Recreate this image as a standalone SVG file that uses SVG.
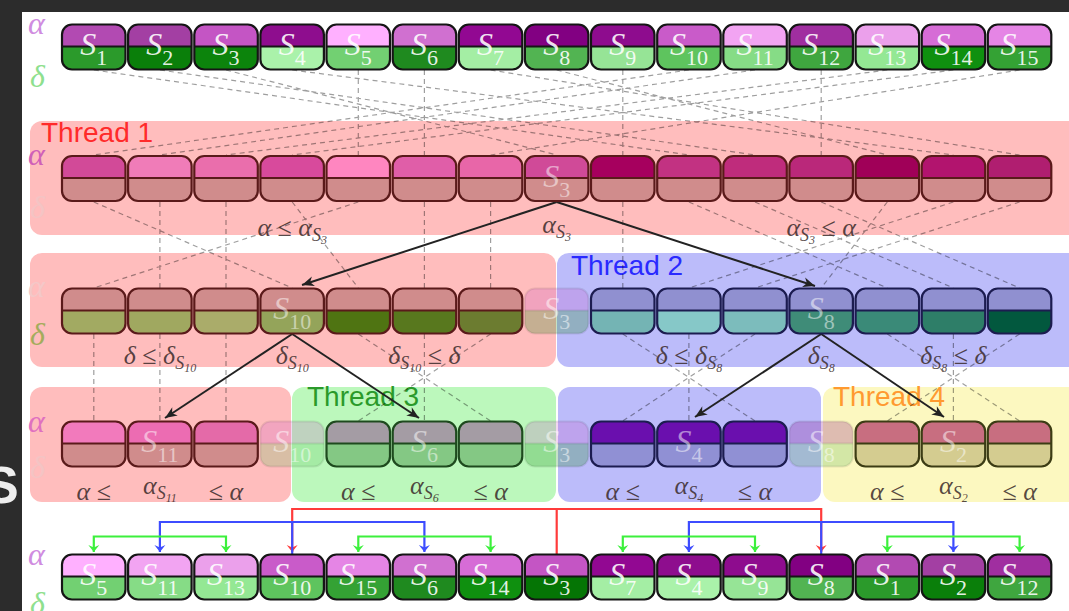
<svg xmlns="http://www.w3.org/2000/svg" width="1069" height="611" viewBox="0 0 1069 611">
<style>
.k0{stroke:#151515;stroke-width:2.2}
.km{stroke:#5a1a1a;stroke-width:2.2}
.kb{stroke:#1c1c50;stroke-width:2.2}
.kg{stroke:#1e4a1e;stroke-width:2.2}
.ky{stroke:#3c3c14;stroke-width:2.2}
.kf{stroke:#000;stroke-opacity:.08;stroke-width:2}
.fd{opacity:.24}
.lb{font-family:"Liberation Serif",serif;text-anchor:middle;fill:#fff;fill-opacity:.9}
.lp{fill-opacity:.5}
.S{font-style:italic;font-size:32px}
.sb{font-size:22px}
.th{font-family:"Liberation Sans",sans-serif;font-size:28px}
.gk{font-family:"Liberation Serif",serif;font-style:italic;font-size:32px}
.cd{font-family:"Liberation Serif",serif;font-style:italic;font-size:26px;fill:#3a2a2a;fill-opacity:.85;text-anchor:middle}
.c1{font-size:18px}
.c2{font-size:12px}
.dl{stroke:#000;stroke-opacity:.38;stroke-width:1.2;stroke-dasharray:5 4;fill:none}
.ba{stroke:#222;stroke-width:2;fill:none;marker-end:url(#ah)}
.ca{stroke-width:2.2;fill:none}
.cr{stroke:#ff3b3b}
.cbl{stroke:#3d4cff}
.cg{stroke:#3cf03c}
</style>
<defs>
<path id="ct" d="M0,22V10A10,10 0 0 1 10,0H53.5A10,10 0 0 1 63.5,10V22Z"/>
<path id="cb" d="M0,22V35A10,10 0 0 0 10,45H53.5A10,10 0 0 0 63.5,35V22Z"/>
<g id="cf" fill="none"><rect width="63.5" height="45" rx="10"/><path d="M0,22H63.5"/></g>
<marker id="ah" viewBox="-13 -6 14 12" refX="0" refY="0" markerWidth="14" markerHeight="12" markerUnits="userSpaceOnUse" orient="auto"><path d="M0,0L-12,-5L-8.5,0L-12,5Z" fill="#222"/></marker>
<marker id="mr" viewBox="-9 -6 10 12" refX="0" refY="0" markerWidth="10" markerHeight="12" markerUnits="userSpaceOnUse" orient="auto-start-reverse"><path d="M0,0L-7,-5.5L-4.5,0L-7,5.5Z" fill="#ff3b3b"/></marker>
<marker id="mb" viewBox="-9 -6 10 12" refX="0" refY="0" markerWidth="10" markerHeight="12" markerUnits="userSpaceOnUse" orient="auto-start-reverse"><path d="M0,0L-7,-5.5L-4.5,0L-7,5.5Z" fill="#3d4cff"/></marker>
<marker id="mg" viewBox="-9 -6 10 12" refX="0" refY="0" markerWidth="10" markerHeight="12" markerUnits="userSpaceOnUse" orient="auto-start-reverse"><path d="M0,0L-7,-5.5L-4.5,0L-7,5.5Z" fill="#3cf03c"/></marker>
</defs>

<rect width="1069" height="611" fill="#2c2c2c"/>
<text x="-16" y="503" font-family="Liberation Sans, sans-serif" font-weight="bold" font-size="52" fill="#eeeeee">S</text>
<rect x="22" y="12" width="1047" height="599" fill="#ffffff"/>

<g id="boxes">
<g id="thread1"><rect x="30" y="121" width="1060" height="114" rx="12" fill="#ffbdbd"/><text class="th" x="41" y="142" fill="#ff2a2a">Thread 1</text></g>
<rect id="thread1-b" x="30" y="253" width="526" height="114" rx="12" fill="#ffbdbd"/>
<g id="thread2"><rect x="557" y="253" width="530" height="114" rx="12" fill="#bcbcfa"/><text class="th" x="571" y="275" fill="#2a2aff">Thread 2</text></g>
<rect id="thread1-c" x="30" y="387" width="261" height="115" rx="12" fill="#ffbdbd"/>
<g id="thread3"><rect x="292" y="387" width="264" height="115" rx="12" fill="#bcf8bc"/><text class="th" x="307" y="406" fill="#2a9a2a">Thread 3</text></g>
<rect id="thread2-b" x="558" y="387" width="263" height="115" rx="12" fill="#bcbcfa"/>
<g id="thread4"><rect x="823" y="387" width="260" height="115" rx="12" fill="#fcf8c0"/><text class="th" x="833" y="406" fill="#ff9a30">Thread 4</text></g>
</g>

<g id="axis-labels" class="gk">
<text x="28" y="34" fill="#d08ce0">α</text><text x="30" y="87" fill="#8ee08e">δ</text>
<text x="28" y="165" fill="#d060b8">α</text><text x="30" y="218" fill="#f4c4c4">δ</text>
<text x="28" y="297" fill="#f4c8c8">α</text><text x="30" y="345" fill="#a4ac5c">δ</text>
<text x="28" y="432" fill="#e070c0">α</text><text x="30" y="478" fill="#f4c4c4">δ</text>
<text x="28" y="565" fill="#d08ce0">α</text><text x="30" y="614" fill="#8ee08e">δ</text>
</g>

<g id="connectors">
<g id="dashed">
<path class="dl" d="M93.8,70L688.9,155M159.9,70L755,155M226,70L556.7,155M292.2,70L953.4,155M358.3,70V155M424.4,70V155M490.6,70L1019.6,155M556.7,70L887.3,155M622.8,70V155M688.9,70L93.8,155M755,70L159.9,155M821.2,70V155M887.3,70L226,155M953.4,70L292.2,155M1019.6,70L490.6,155"/>
<path class="dl" d="M93.8,202L292.2,288M159.9,202V288M226,202V288M292.2,202L358.3,288M358.3,202L93.8,288M424.4,202V288M490.6,202V288M622.8,202V288M688.9,202L887.3,288M755,202L953.4,288M821.2,202L1019.6,288M887.3,202L821.2,288M953.4,202L688.9,288M1019.6,202L755,288"/>
<path class="dl" d="M93.8,334V421M159.9,334V421M226,334V421M358.3,334L490.6,421M424.4,334V421M490.6,334L358.3,421M622.8,334L755,421M688.9,334V421M755,334L622.8,421M887.3,334L1019.6,421M953.4,334V421M1019.6,334L887.3,421"/>
</g>
<g id="pivot-arrows">
<path class="ba" d="M556.7,202L302,285"/>
<path class="ba" d="M556.7,202L815,286"/>
<path class="ba" d="M292.2,334L165,418"/>
<path class="ba" d="M292.2,334L419,418"/>
<path class="ba" d="M821.2,334L695,417"/>
<path class="ba" d="M821.2,334L944,417"/>
</g>
<g id="merge-arrows">
<path class="ca cr" d="M292.2,552V509H821.2V552" marker-start="url(#mr)" marker-end="url(#mr)"/>
<path class="ca cr" d="M556.7,509V555"/>
<path class="ca cbl" d="M159.9,552V522H424.4V552" marker-start="url(#mb)" marker-end="url(#mb)"/>
<path class="ca cbl" d="M292.2,522V554"/>
<path class="ca cbl" d="M688.9,552V522H953.4V552" marker-start="url(#mb)" marker-end="url(#mb)"/>
<path class="ca cbl" d="M821.2,522V554"/>
<path class="ca cg" d="M93.8,552V536.5H226V552" marker-start="url(#mg)" marker-end="url(#mg)"/>
<path class="ca cg" d="M358.3,552V536.5H490.6V552" marker-start="url(#mg)" marker-end="url(#mg)"/>
<path class="ca cg" d="M622.8,552V536.5H755V552" marker-start="url(#mg)" marker-end="url(#mg)"/>
<path class="ca cg" d="M887.3,552V536.5H1019.6V552" marker-start="url(#mg)" marker-end="url(#mg)"/>
</g>
</g>

<g id="row1">
<g id="r1c1" transform="translate(62,24.5)"><use href="#ct" fill="#b24ab2"/><use href="#cb" fill="#2b9a2b"/><use href="#cf" class="k0"/><text class="lb" x="31.75" y="30.5"><tspan class="S">S</tspan><tspan class="sb" dy="10">1</tspan></text></g>
<g id="r1c2" transform="translate(128.1,24.5)"><use href="#ct" fill="#a33fa3"/><use href="#cb" fill="#0a7f0a"/><use href="#cf" class="k0"/><text class="lb" x="31.75" y="30.5"><tspan class="S">S</tspan><tspan class="sb" dy="10">2</tspan></text></g>
<g id="r1c3" transform="translate(194.3,24.5)"><use href="#ct" fill="#c455c4"/><use href="#cb" fill="#0c840c"/><use href="#cf" class="k0"/><text class="lb" x="31.75" y="30.5"><tspan class="S">S</tspan><tspan class="sb" dy="10">3</tspan></text></g>
<g id="r1c4" transform="translate(260.4,24.5)"><use href="#ct" fill="#8e0d8e"/><use href="#cb" fill="#aaf2aa"/><use href="#cf" class="k0"/><text class="lb" x="31.75" y="30.5"><tspan class="S">S</tspan><tspan class="sb" dy="10">4</tspan></text></g>
<g id="r1c5" transform="translate(326.5,24.5)"><use href="#ct" fill="#ffb0ff"/><use href="#cb" fill="#72d072"/><use href="#cf" class="k0"/><text class="lb" x="31.75" y="30.5"><tspan class="S">S</tspan><tspan class="sb" dy="10">5</tspan></text></g>
<g id="r1c6" transform="translate(392.7,24.5)"><use href="#ct" fill="#d070d0"/><use href="#cb" fill="#1f8a1f"/><use href="#cf" class="k0"/><text class="lb" x="31.75" y="30.5"><tspan class="S">S</tspan><tspan class="sb" dy="10">6</tspan></text></g>
<g id="r1c7" transform="translate(458.8,24.5)"><use href="#ct" fill="#920892"/><use href="#cb" fill="#a4eea4"/><use href="#cf" class="k0"/><text class="lb" x="31.75" y="30.5"><tspan class="S">S</tspan><tspan class="sb" dy="10">7</tspan></text></g>
<g id="r1c8" transform="translate(524.9,24.5)"><use href="#ct" fill="#820082"/><use href="#cb" fill="#52b452"/><use href="#cf" class="k0"/><text class="lb" x="31.75" y="30.5"><tspan class="S">S</tspan><tspan class="sb" dy="10">8</tspan></text></g>
<g id="r1c9" transform="translate(591,24.5)"><use href="#ct" fill="#8e0c8e"/><use href="#cb" fill="#96e496"/><use href="#cf" class="k0"/><text class="lb" x="31.75" y="30.5"><tspan class="S">S</tspan><tspan class="sb" dy="10">9</tspan></text></g>
<g id="r1c10" transform="translate(657.2,24.5)"><use href="#ct" fill="#c95bc9"/><use href="#cb" fill="#5ec45e"/><use href="#cf" class="k0"/><text class="lb" x="31.75" y="30.5"><tspan class="S">S</tspan><tspan class="sb" dy="10">10</tspan></text></g>
<g id="r1c11" transform="translate(723.3,24.5)"><use href="#ct" fill="#f2a4f2"/><use href="#cb" fill="#86dc86"/><use href="#cf" class="k0"/><text class="lb" x="31.75" y="30.5"><tspan class="S">S</tspan><tspan class="sb" dy="10">11</tspan></text></g>
<g id="r1c12" transform="translate(789.4,24.5)"><use href="#ct" fill="#a02ea0"/><use href="#cb" fill="#3fa63f"/><use href="#cf" class="k0"/><text class="lb" x="31.75" y="30.5"><tspan class="S">S</tspan><tspan class="sb" dy="10">12</tspan></text></g>
<g id="r1c13" transform="translate(855.6,24.5)"><use href="#ct" fill="#eba0eb"/><use href="#cb" fill="#94e894"/><use href="#cf" class="k0"/><text class="lb" x="31.75" y="30.5"><tspan class="S">S</tspan><tspan class="sb" dy="10">13</tspan></text></g>
<g id="r1c14" transform="translate(921.7,24.5)"><use href="#ct" fill="#d66cd6"/><use href="#cb" fill="#0f900f"/><use href="#cf" class="k0"/><text class="lb" x="31.75" y="30.5"><tspan class="S">S</tspan><tspan class="sb" dy="10">14</tspan></text></g>
<g id="r1c15" transform="translate(987.8,24.5)"><use href="#ct" fill="#e585e5"/><use href="#cb" fill="#34a234"/><use href="#cf" class="k0"/><text class="lb" x="31.75" y="30.5"><tspan class="S">S</tspan><tspan class="sb" dy="10">15</tspan></text></g>
</g>

<g id="row2">
<g id="r2c1" transform="translate(62,156)"><use href="#ct" fill="#d24a98"/><use href="#cb" fill="#d08c8c"/><use href="#cf" class="km"/></g>
<g id="r2c2" transform="translate(128.1,156)"><use href="#ct" fill="#f07cb8"/><use href="#cb" fill="#d08c8c"/><use href="#cf" class="km"/></g>
<g id="r2c3" transform="translate(194.3,156)"><use href="#ct" fill="#ea6eac"/><use href="#cb" fill="#d08c8c"/><use href="#cf" class="km"/></g>
<g id="r2c4" transform="translate(260.4,156)"><use href="#ct" fill="#d84a9c"/><use href="#cb" fill="#d08c8c"/><use href="#cf" class="km"/></g>
<g id="r2c5" transform="translate(326.5,156)"><use href="#ct" fill="#ff86c0"/><use href="#cb" fill="#d08c8c"/><use href="#cf" class="km"/></g>
<g id="r2c6" transform="translate(392.7,156)"><use href="#ct" fill="#e05ea8"/><use href="#cb" fill="#d08c8c"/><use href="#cf" class="km"/></g>
<g id="r2c7" transform="translate(458.8,156)"><use href="#ct" fill="#e866a8"/><use href="#cb" fill="#d08c8c"/><use href="#cf" class="km"/></g>
<g id="r2c8" transform="translate(524.9,156)"><use href="#ct" fill="#d04a98"/><use href="#cb" fill="#d08c8c"/><use href="#cf" class="km"/><text class="lb lp" x="31.75" y="30.5"><tspan class="S">S</tspan><tspan class="sb" dy="10">3</tspan></text></g>
<g id="r2c9" transform="translate(591,156)"><use href="#ct" fill="#a6005e"/><use href="#cb" fill="#d08c8c"/><use href="#cf" class="km"/></g>
<g id="r2c10" transform="translate(657.2,156)"><use href="#ct" fill="#c23282"/><use href="#cb" fill="#d08c8c"/><use href="#cf" class="km"/></g>
<g id="r2c11" transform="translate(723.3,156)"><use href="#ct" fill="#bf2c7c"/><use href="#cb" fill="#d08c8c"/><use href="#cf" class="km"/></g>
<g id="r2c12" transform="translate(789.4,156)"><use href="#ct" fill="#ba287a"/><use href="#cb" fill="#d08c8c"/><use href="#cf" class="km"/></g>
<g id="r2c13" transform="translate(855.6,156)"><use href="#ct" fill="#a00058"/><use href="#cb" fill="#d08c8c"/><use href="#cf" class="km"/></g>
<g id="r2c14" transform="translate(921.7,156)"><use href="#ct" fill="#b2146e"/><use href="#cb" fill="#d08c8c"/><use href="#cf" class="km"/></g>
<g id="r2c15" transform="translate(987.8,156)"><use href="#ct" fill="#b01e70"/><use href="#cb" fill="#d08c8c"/><use href="#cf" class="km"/></g>
</g>

<g id="row3">
<g id="r3c1" transform="translate(62,288.5)"><use href="#ct" fill="#d08c8c"/><use href="#cb" fill="#a2aa62"/><use href="#cf" class="km"/></g>
<g id="r3c2" transform="translate(128.1,288.5)"><use href="#ct" fill="#d08c8c"/><use href="#cb" fill="#a0a860"/><use href="#cf" class="km"/></g>
<g id="r3c3" transform="translate(194.3,288.5)"><use href="#ct" fill="#d08c8c"/><use href="#cb" fill="#aaac6a"/><use href="#cf" class="km"/></g>
<g id="r3c4" transform="translate(260.4,288.5)"><use href="#ct" fill="#d08c8c"/><use href="#cb" fill="#94a45a"/><use href="#cf" class="km"/><text class="lb lp" x="31.75" y="30.5"><tspan class="S">S</tspan><tspan class="sb" dy="10">10</tspan></text></g>
<g id="r3c5" transform="translate(326.5,288.5)"><use href="#ct" fill="#d08c8c"/><use href="#cb" fill="#4f7412"/><use href="#cf" class="km"/></g>
<g id="r3c6" transform="translate(392.7,288.5)"><use href="#ct" fill="#d08c8c"/><use href="#cb" fill="#58781e"/><use href="#cf" class="km"/></g>
<g id="r3c7" transform="translate(458.8,288.5)"><use href="#ct" fill="#d08c8c"/><use href="#cb" fill="#6c7c30"/><use href="#cf" class="km"/></g>
<g id="r3c8" transform="translate(524.9,288.5)"><use href="#ct" fill="#c455c4" class="fd"/><use href="#cb" fill="#0c840c" class="fd"/><use href="#cf" class="kf"/><text class="lb lp" x="31.75" y="30.5"><tspan class="S">S</tspan><tspan class="sb" dy="10">3</tspan></text></g>
<g id="r3c9" transform="translate(591,288.5)"><use href="#ct" fill="#9090d0"/><use href="#cb" fill="#74b4b4"/><use href="#cf" class="kb"/></g>
<g id="r3c10" transform="translate(657.2,288.5)"><use href="#ct" fill="#9090d0"/><use href="#cb" fill="#86c8c8"/><use href="#cf" class="kb"/></g>
<g id="r3c11" transform="translate(723.3,288.5)"><use href="#ct" fill="#9090d0"/><use href="#cb" fill="#7cbcbc"/><use href="#cf" class="kb"/></g>
<g id="r3c12" transform="translate(789.4,288.5)"><use href="#ct" fill="#9090d0"/><use href="#cb" fill="#3f8c78"/><use href="#cf" class="kb"/><text class="lb lp" x="31.75" y="30.5"><tspan class="S">S</tspan><tspan class="sb" dy="10">8</tspan></text></g>
<g id="r3c13" transform="translate(855.6,288.5)"><use href="#ct" fill="#9090d0"/><use href="#cb" fill="#3a8a78"/><use href="#cf" class="kb"/></g>
<g id="r3c14" transform="translate(921.7,288.5)"><use href="#ct" fill="#9090d0"/><use href="#cb" fill="#2e7e68"/><use href="#cf" class="kb"/></g>
<g id="r3c15" transform="translate(987.8,288.5)"><use href="#ct" fill="#9090d0"/><use href="#cb" fill="#02583e"/><use href="#cf" class="kb"/></g>
</g>

<g id="row4">
<g id="r4c1" transform="translate(62,421.5)"><use href="#ct" fill="#f27abc"/><use href="#cb" fill="#d08c8c"/><use href="#cf" class="km"/></g>
<g id="r4c2" transform="translate(128.1,421.5)"><use href="#ct" fill="#ec6cb2"/><use href="#cb" fill="#d08c8c"/><use href="#cf" class="km"/><text class="lb lp" x="31.75" y="30.5"><tspan class="S">S</tspan><tspan class="sb" dy="10">11</tspan></text></g>
<g id="r4c3" transform="translate(194.3,421.5)"><use href="#ct" fill="#e46aa8"/><use href="#cb" fill="#d08c8c"/><use href="#cf" class="km"/></g>
<g id="r4c4" transform="translate(260.4,421.5)"><use href="#ct" fill="#c95bc9" class="fd"/><use href="#cb" fill="#5ec45e" class="fd"/><use href="#cf" class="kf"/><text class="lb lp" x="31.75" y="30.5"><tspan class="S">S</tspan><tspan class="sb" dy="10">10</tspan></text></g>
<g id="r4c5" transform="translate(326.5,421.5)"><use href="#ct" fill="#a49ca4"/><use href="#cb" fill="#84c884"/><use href="#cf" class="kg"/></g>
<g id="r4c6" transform="translate(392.7,421.5)"><use href="#ct" fill="#a49ca4"/><use href="#cb" fill="#84c884"/><use href="#cf" class="kg"/><text class="lb lp" x="31.75" y="30.5"><tspan class="S">S</tspan><tspan class="sb" dy="10">6</tspan></text></g>
<g id="r4c7" transform="translate(458.8,421.5)"><use href="#ct" fill="#a49ca4"/><use href="#cb" fill="#84c884"/><use href="#cf" class="kg"/></g>
<g id="r4c8" transform="translate(524.9,421.5)"><use href="#ct" fill="#c455c4" class="fd"/><use href="#cb" fill="#0c840c" class="fd"/><use href="#cf" class="kf"/><text class="lb lp" x="31.75" y="30.5"><tspan class="S">S</tspan><tspan class="sb" dy="10">3</tspan></text></g>
<g id="r4c9" transform="translate(591,421.5)"><use href="#ct" fill="#6a0fae"/><use href="#cb" fill="#9090d4"/><use href="#cf" class="kb"/></g>
<g id="r4c10" transform="translate(657.2,421.5)"><use href="#ct" fill="#6a0fae"/><use href="#cb" fill="#9090d4"/><use href="#cf" class="kb"/><text class="lb lp" x="31.75" y="30.5"><tspan class="S">S</tspan><tspan class="sb" dy="10">4</tspan></text></g>
<g id="r4c11" transform="translate(723.3,421.5)"><use href="#ct" fill="#6a0fae"/><use href="#cb" fill="#9090d4"/><use href="#cf" class="kb"/></g>
<g id="r4c12" transform="translate(789.4,421.5)"><use href="#ct" fill="#820082" class="fd"/><use href="#cb" fill="#52b452" class="fd"/><use href="#cf" class="kf"/><text class="lb lp" x="31.75" y="30.5"><tspan class="S">S</tspan><tspan class="sb" dy="10">8</tspan></text></g>
<g id="r4c13" transform="translate(855.6,421.5)"><use href="#ct" fill="#c86e80"/><use href="#cb" fill="#d4cc90"/><use href="#cf" class="ky"/></g>
<g id="r4c14" transform="translate(921.7,421.5)"><use href="#ct" fill="#c86e80"/><use href="#cb" fill="#d4cc90"/><use href="#cf" class="ky"/><text class="lb lp" x="31.75" y="30.5"><tspan class="S">S</tspan><tspan class="sb" dy="10">2</tspan></text></g>
<g id="r4c15" transform="translate(987.8,421.5)"><use href="#ct" fill="#c86e80"/><use href="#cb" fill="#d4cc90"/><use href="#cf" class="ky"/></g>
</g>

<g id="row5">
<g id="r5c1" transform="translate(62,554.5)"><use href="#ct" fill="#ffb0ff"/><use href="#cb" fill="#72d072"/><use href="#cf" class="k0"/><text class="lb" x="31.75" y="30.5"><tspan class="S">S</tspan><tspan class="sb" dy="10">5</tspan></text></g>
<g id="r5c2" transform="translate(128.1,554.5)"><use href="#ct" fill="#f2a4f2"/><use href="#cb" fill="#86dc86"/><use href="#cf" class="k0"/><text class="lb" x="31.75" y="30.5"><tspan class="S">S</tspan><tspan class="sb" dy="10">11</tspan></text></g>
<g id="r5c3" transform="translate(194.3,554.5)"><use href="#ct" fill="#eba0eb"/><use href="#cb" fill="#94e894"/><use href="#cf" class="k0"/><text class="lb" x="31.75" y="30.5"><tspan class="S">S</tspan><tspan class="sb" dy="10">13</tspan></text></g>
<g id="r5c4" transform="translate(260.4,554.5)"><use href="#ct" fill="#c95bc9"/><use href="#cb" fill="#5ec45e"/><use href="#cf" class="k0"/><text class="lb" x="31.75" y="30.5"><tspan class="S">S</tspan><tspan class="sb" dy="10">10</tspan></text></g>
<g id="r5c5" transform="translate(326.5,554.5)"><use href="#ct" fill="#e585e5"/><use href="#cb" fill="#34a234"/><use href="#cf" class="k0"/><text class="lb" x="31.75" y="30.5"><tspan class="S">S</tspan><tspan class="sb" dy="10">15</tspan></text></g>
<g id="r5c6" transform="translate(392.7,554.5)"><use href="#ct" fill="#d070d0"/><use href="#cb" fill="#1f8a1f"/><use href="#cf" class="k0"/><text class="lb" x="31.75" y="30.5"><tspan class="S">S</tspan><tspan class="sb" dy="10">6</tspan></text></g>
<g id="r5c7" transform="translate(458.8,554.5)"><use href="#ct" fill="#d66cd6"/><use href="#cb" fill="#0f900f"/><use href="#cf" class="k0"/><text class="lb" x="31.75" y="30.5"><tspan class="S">S</tspan><tspan class="sb" dy="10">14</tspan></text></g>
<g id="r5c8" transform="translate(524.9,554.5)"><use href="#ct" fill="#c455c4"/><use href="#cb" fill="#057505"/><use href="#cf" class="k0"/><text class="lb" x="31.75" y="30.5"><tspan class="S">S</tspan><tspan class="sb" dy="10">3</tspan></text></g>
<g id="r5c9" transform="translate(591,554.5)"><use href="#ct" fill="#920892"/><use href="#cb" fill="#a4eea4"/><use href="#cf" class="k0"/><text class="lb" x="31.75" y="30.5"><tspan class="S">S</tspan><tspan class="sb" dy="10">7</tspan></text></g>
<g id="r5c10" transform="translate(657.2,554.5)"><use href="#ct" fill="#8e0d8e"/><use href="#cb" fill="#aaf2aa"/><use href="#cf" class="k0"/><text class="lb" x="31.75" y="30.5"><tspan class="S">S</tspan><tspan class="sb" dy="10">4</tspan></text></g>
<g id="r5c11" transform="translate(723.3,554.5)"><use href="#ct" fill="#8e0c8e"/><use href="#cb" fill="#96e496"/><use href="#cf" class="k0"/><text class="lb" x="31.75" y="30.5"><tspan class="S">S</tspan><tspan class="sb" dy="10">9</tspan></text></g>
<g id="r5c12" transform="translate(789.4,554.5)"><use href="#ct" fill="#820082"/><use href="#cb" fill="#52b452"/><use href="#cf" class="k0"/><text class="lb" x="31.75" y="30.5"><tspan class="S">S</tspan><tspan class="sb" dy="10">8</tspan></text></g>
<g id="r5c13" transform="translate(855.6,554.5)"><use href="#ct" fill="#b24ab2"/><use href="#cb" fill="#2b9a2b"/><use href="#cf" class="k0"/><text class="lb" x="31.75" y="30.5"><tspan class="S">S</tspan><tspan class="sb" dy="10">1</tspan></text></g>
<g id="r5c14" transform="translate(921.7,554.5)"><use href="#ct" fill="#a33fa3"/><use href="#cb" fill="#0a7f0a"/><use href="#cf" class="k0"/><text class="lb" x="31.75" y="30.5"><tspan class="S">S</tspan><tspan class="sb" dy="10">2</tspan></text></g>
<g id="r5c15" transform="translate(987.8,554.5)"><use href="#ct" fill="#a02ea0"/><use href="#cb" fill="#3fa63f"/><use href="#cf" class="k0"/><text class="lb" x="31.75" y="30.5"><tspan class="S">S</tspan><tspan class="sb" dy="10">12</tspan></text></g>
</g>

<g id="conditions">
<text class="cd" x="292.2" y="236">α ≤ α<tspan class="c1" dy="5">S</tspan><tspan class="c2" dy="3">3</tspan></text>
<text class="cd" x="556.7" y="233">α<tspan class="c1" dy="5">S</tspan><tspan class="c2" dy="3">3</tspan></text>
<text class="cd" x="821.2" y="236">α<tspan class="c1" dy="5">S</tspan><tspan class="c2" dy="3">3</tspan><tspan dy="-8"> ≤ α</tspan></text>
<text class="cd" x="159.9" y="364">δ ≤ δ<tspan class="c1" dy="5">S</tspan><tspan class="c2" dy="3">10</tspan></text>
<text class="cd" x="292.2" y="364">δ<tspan class="c1" dy="5">S</tspan><tspan class="c2" dy="3">10</tspan></text>
<text class="cd" x="424.4" y="364">δ<tspan class="c1" dy="5">S</tspan><tspan class="c2" dy="3">10</tspan><tspan dy="-8"> ≤ δ</tspan></text>
<text class="cd" x="688.9" y="364">δ ≤ δ<tspan class="c1" dy="5">S</tspan><tspan class="c2" dy="3">8</tspan></text>
<text class="cd" x="821.2" y="364">δ<tspan class="c1" dy="5">S</tspan><tspan class="c2" dy="3">8</tspan></text>
<text class="cd" x="953.4" y="364">δ<tspan class="c1" dy="5">S</tspan><tspan class="c2" dy="3">8</tspan><tspan dy="-8"> ≤ δ</tspan></text>
<text class="cd" x="93.8" y="500">α ≤</text>
<text class="cd" x="159.9" y="494">α<tspan class="c1" dy="5">S</tspan><tspan class="c2" dy="3">11</tspan></text>
<text class="cd" x="226" y="500">≤ α</text>
<text class="cd" x="358.3" y="500">α ≤</text>
<text class="cd" x="424.4" y="494">α<tspan class="c1" dy="5">S</tspan><tspan class="c2" dy="3">6</tspan></text>
<text class="cd" x="490.6" y="500">≤ α</text>
<text class="cd" x="622.8" y="500">α ≤</text>
<text class="cd" x="688.9" y="494">α<tspan class="c1" dy="5">S</tspan><tspan class="c2" dy="3">4</tspan></text>
<text class="cd" x="755" y="500">≤ α</text>
<text class="cd" x="887.3" y="500">α ≤</text>
<text class="cd" x="953.4" y="494">α<tspan class="c1" dy="5">S</tspan><tspan class="c2" dy="3">2</tspan></text>
<text class="cd" x="1019.6" y="500">≤ α</text>
</g>
</svg>
